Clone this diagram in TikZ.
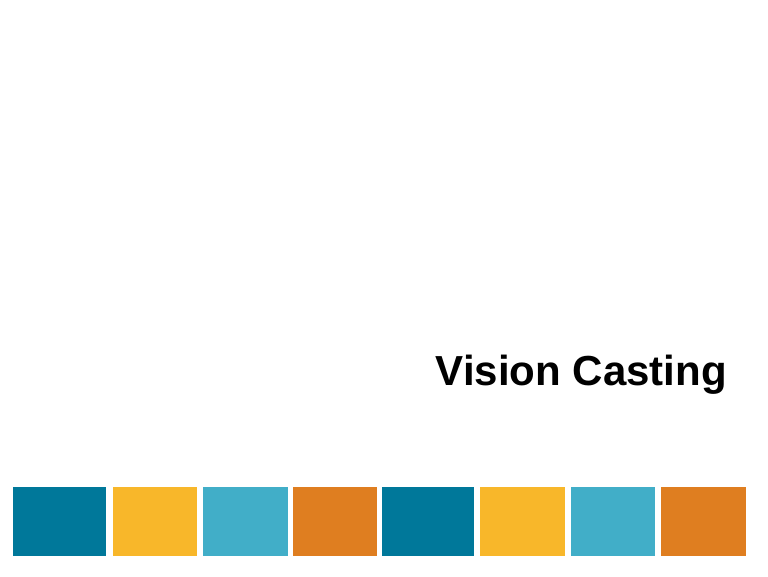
\documentclass[tikz,border=0pt]{standalone}
\usepackage{fontspec}
\setmainfont{Liberation Sans}
\definecolor{cteal}{HTML}{00789A}
\definecolor{cyel}{HTML}{F8B72A}
\definecolor{clb}{HTML}{41AEC8}
\definecolor{cor}{HTML}{DF7E20}
\begin{document}
\begin{tikzpicture}[x=1pt,y=-1pt,sq/.style={inner sep=0pt,outer sep=0pt}]
\useasboundingbox (0,0) rectangle (768,576);
\fill[white] (0,0) rectangle (768,576);
\node[anchor=base east,inner sep=0pt,font=\fontsize{42}{48}\selectfont\bfseries] (title) at (727,385) {Vision Casting};
\fill[cteal] (13,487) rectangle (106,556);
\fill[cyel] (113,487) rectangle (197,556);
\fill[clb] (203,487) rectangle (288,556);
\fill[cor] (293,487) rectangle (377,556);
\fill[cteal] (382,487) rectangle (474,556);
\fill[cyel] (480,487) rectangle (565,556);
\fill[clb] (571,487) rectangle (655,556);
\fill[cor] (661,487) rectangle (746,556);
\end{tikzpicture}
\end{document}
